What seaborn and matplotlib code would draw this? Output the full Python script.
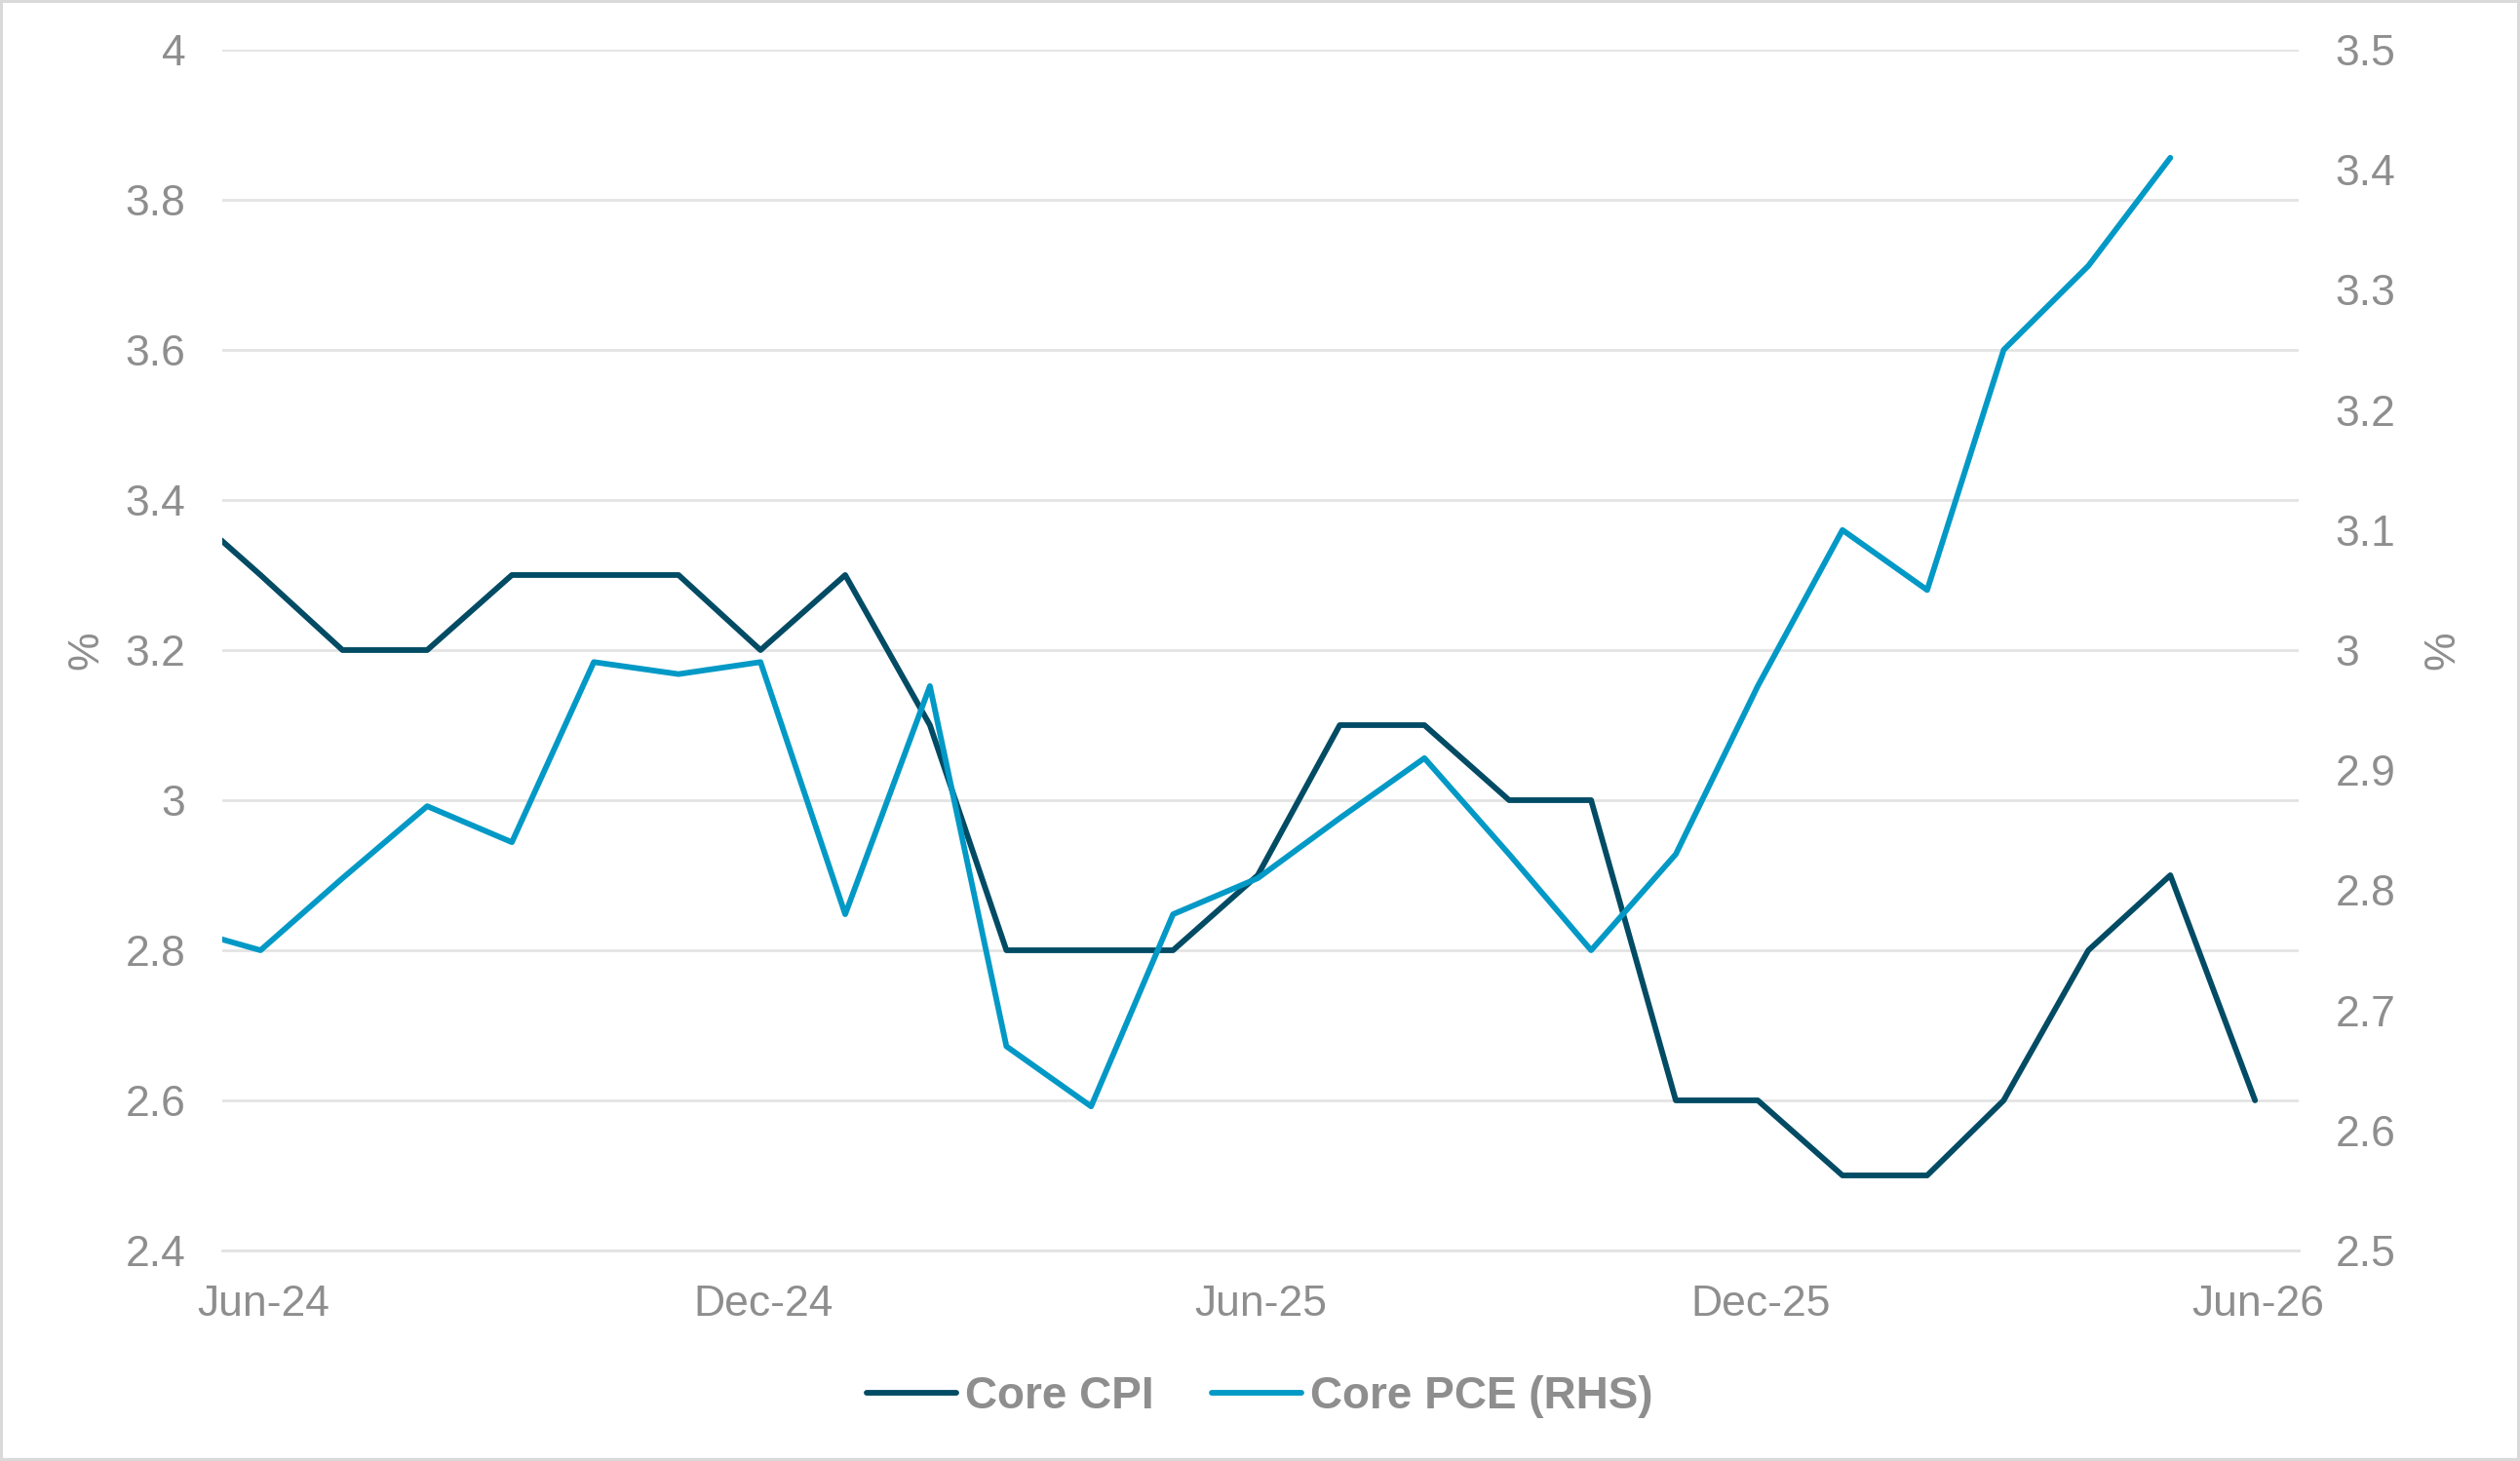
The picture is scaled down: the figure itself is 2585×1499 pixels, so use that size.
import pandas as pd
import seaborn as sns
import matplotlib.pyplot as plt
from matplotlib.ticker import FixedLocator, FuncFormatter

# monthly readings, plotted mid-month (first point sits just left of the axis start)
cpi_months = pd.date_range('2024-05-01', '2026-06-01', freq='MS') + pd.Timedelta(days=14)
core_cpi = [3.4, 3.3, 3.2, 3.2, 3.3, 3.3, 3.3, 3.2, 3.3, 3.1, 2.8, 2.8, 2.8,
            2.9, 3.1, 3.1, 3.0, 3.0, 2.6, 2.6, 2.5, 2.5, 2.6, 2.8, 2.9, 2.6]

pce_months = pd.date_range('2024-05-01', '2026-05-01', freq='MS') + pd.Timedelta(days=14)
core_pce = [2.77, 2.75, 2.81, 2.87, 2.84, 2.99, 2.98, 2.99, 2.78, 2.97, 2.67, 2.62, 2.78,
            2.81, 2.86, 2.91, 2.83, 2.75, 2.83, 2.97, 3.10, 3.05, 3.25, 3.32, 3.41]

tick_dates = pd.to_datetime(['2024-06-01', '2024-12-01', '2025-06-01', '2025-12-01', '2026-06-01'])
tick_labels = ['Jun-24', 'Dec-24', 'Jun-25', 'Dec-25', 'Jun-26']
left_ticks = [2.4, 2.6, 2.8, 3.0, 3.2, 3.4, 3.6, 3.8, 4.0]
right_ticks = [2.5, 2.6, 2.7, 2.8, 2.9, 3.0, 3.1, 3.2, 3.3, 3.4, 3.5]

cpi_color = '#024B64'
pce_color = '#0299C6'
text_grey = '#8E8E8E'
grid_grey = '#E3E3E3'

sns.set_style('white')
plt.rcParams['font.family'] = ['Liberation Sans', 'DejaVu Sans']

fig = plt.figure(figsize=(25.85, 14.99), dpi=100, edgecolor='#D9D9D9', linewidth=4)
fig.subplots_adjust(left=0.0882, right=0.9122, top=0.966, bottom=0.1441)
ax = fig.add_subplot(111)
ax2 = ax.twinx()

line_kw = dict(linewidth=4.2, solid_joinstyle='round', solid_capstyle='round')
sns.lineplot(x=cpi_months, y=core_cpi, ax=ax, color=cpi_color, label='Core CPI', legend=False, **line_kw)
sns.lineplot(x=pce_months, y=core_pce, ax=ax2, color=pce_color, label='Core PCE (RHS)', legend=False, **line_kw)

ax.set_xlim(pd.Timestamp('2024-06-01'), pd.Timestamp('2026-07-01'))
ax.set_ylim(2.4, 4.0)
ax2.set_ylim(2.5, 3.5)

fmt = FuncFormatter(lambda v, p: f'{v:g}')
ax.yaxis.set_major_locator(FixedLocator(left_ticks))
ax.yaxis.set_major_formatter(fmt)
ax2.yaxis.set_major_locator(FixedLocator(right_ticks))
ax2.yaxis.set_major_formatter(fmt)

# tick marks at month start, labels centred mid-month
ax.set_xticks(tick_dates)
ax.set_xticklabels([''] * len(tick_dates))
ax.set_xticks(tick_dates + pd.Timedelta(days=15), minor=True)
ax.set_xticklabels(tick_labels, minor=True)
ax.tick_params(axis='x', which='major', length=14, width=2, color=grid_grey, direction='out')
ax.tick_params(axis='x', which='minor', length=0, pad=25, labelsize=32, labelcolor=text_grey)
ax.tick_params(axis='y', length=0, pad=27, labelsize=32, labelcolor=text_grey)
ax2.tick_params(axis='y', length=0, pad=27, labelsize=32, labelcolor=text_grey)

ax.yaxis.grid(True, color=grid_grey, linewidth=2)
ax2.grid(False)
for a in (ax, ax2):
    for side in ('top', 'left', 'right'):
        a.spines[side].set_visible(False)
    a.spines['bottom'].set_color(grid_grey)
    a.spines['bottom'].set_linewidth(2)

ax.set_xlabel('')
ax.set_ylabel('%', fontsize=32, color=text_grey, labelpad=14)
ax2.set_ylabel('%', fontsize=32, color=text_grey, labelpad=20)

h1, l1 = ax.get_legend_handles_labels()
h2, l2 = ax2.get_legend_handles_labels()
leg = fig.legend(h1 + h2, l1 + l2, loc='center', bbox_to_anchor=(0.5, 0.044), ncol=2,
                 frameon=False, handlelength=2.0, handletextpad=0.2, columnspacing=1.3,
                 prop={'size': 33, 'weight': 'bold'})
for t in leg.get_texts():
    t.set_color(text_grey)

plt.savefig('out.png', dpi=100)
